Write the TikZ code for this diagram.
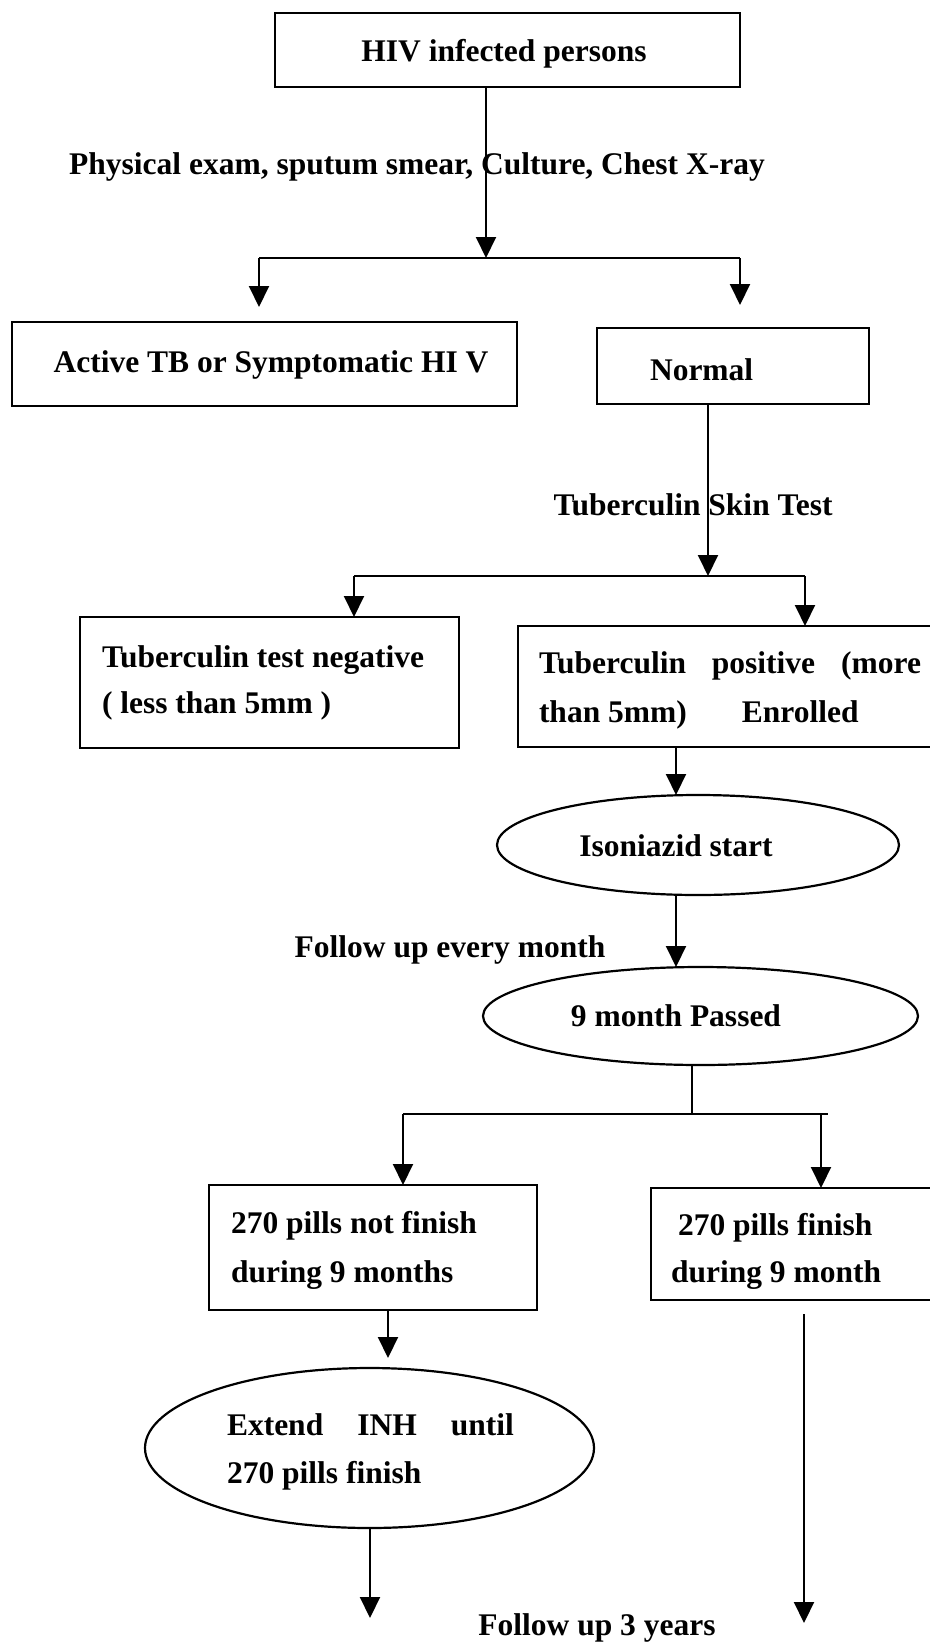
\documentclass[tikz,border=0pt]{standalone}
\usepackage{fontspec}
\setmainfont{Liberation Serif}
\usetikzlibrary{arrows.meta,shapes.geometric}
\begin{document}
\begin{tikzpicture}[x=1pt,y=-1pt,
  every node/.style={font=\fontsize{31.5}{49}\selectfont\bfseries, inner sep=0pt, outer sep=0pt},
  boxnode/.style={draw, line width=2.4pt, rectangle},
  ellnode/.style={draw, line width=2.2pt, ellipse},
  conn/.style={draw, line width=2pt},
  arr/.style={draw, line width=2pt, -{Triangle[length=21pt,width=20pt]}}
]
\useasboundingbox[fill=white] (0,0) rectangle (929,1643);

% boxes and ellipses
\node[boxnode, minimum width=465pt, minimum height=74pt] (hiv) at (507.5,50) {};
\node[boxnode, minimum width=505pt, minimum height=84pt] (tb) at (264.5,364) {};
\node[boxnode, minimum width=272pt, minimum height=76pt] (normal) at (733,366) {};
\node[boxnode, minimum width=379pt, minimum height=131pt] (neg) at (269.5,682.5) {};
\node[boxnode, minimum width=427pt, minimum height=121pt] (pos) at (731.5,686.5) {};
\node[ellnode, minimum width=402pt, minimum height=100pt] (iso) at (698,845) {};
\node[ellnode, minimum width=435pt, minimum height=98pt] (nine) at (700.5,1016) {};
\node[boxnode, minimum width=328pt, minimum height=125pt] (notfin) at (373,1247.5) {};
\node[boxnode, minimum width=294pt, minimum height=112pt] (fin) at (798,1244) {};
\node[ellnode, minimum width=449pt, minimum height=160pt] (ext) at (369.5,1448) {};

% texts
\node[anchor=base] (hivT) at (504,62) {HIV infected persons};
\node[anchor=base] (physT) at (417,174) {Physical exam, sputum smear, Culture, Chest X-ray};
\node[anchor=base] (tbT) at (271,372) {Active TB or Symptomatic HI V};
\node[anchor=base west] (normalT) at (650,380) {Normal};
\node[anchor=base] (tstT) at (693,515) {Tuberculin Skin Test};
\node[anchor=base west] (negA) at (102,667) {Tuberculin test negative};
\node[anchor=base west] (negB) at (102,713) {( less than 5mm )};
\node[anchor=base west] (posA) at (539,673) {\makebox[382pt][s]{Tuberculin positive (more}};
\node[anchor=base west] (posB) at (539,722) {than 5mm)\hspace{55pt}Enrolled};
\node[anchor=base] (isoT) at (676,856) {Isoniazid start};
\node[anchor=base] (fuT) at (450,957) {Follow up every month};
\node[anchor=base] (nineT) at (676,1026) {9 month Passed};
\node[anchor=base west] (notfinA) at (231,1233) {270 pills not finish};
\node[anchor=base west] (notfinB) at (231,1282) {during 9 months};
\node[anchor=base west] (finA) at (678,1235) {270 pills finish};
\node[anchor=base west] (finB) at (671,1282) {during 9 month};
\node[anchor=base west] (extA) at (227,1435) {\makebox[287pt][s]{Extend INH until}};
\node[anchor=base west] (extB) at (227,1483) {270 pills finish};
\node[anchor=base] (fu3T) at (597,1635) {Follow up 3 years};

% junction coordinates
\coordinate (j1) at (486,258);
\coordinate (j1L) at (259,258);
\coordinate (j1R) at (740,258);
\coordinate (j2) at (708,576);
\coordinate (j2L) at (354,576);
\coordinate (j2R) at (805,576);
\coordinate (j3) at (692,1114);
\coordinate (j3L) at (403,1114);
\coordinate (j3R) at (828,1114);
\coordinate (j3A) at (821,1114);
\coordinate (k1) at (388,1300);
\coordinate (e1) at (370,1618);
\coordinate (e2) at (804,1623);

% connectors
\draw[arr] (j1 |- hiv.south) -- (j1);
\draw[conn] (j1L) -- (j1R);
\draw[arr, shorten >=15pt] (j1L) -- (j1L |- tb.north);
\draw[arr, shorten >=23pt] (j1R) -- (j1R |- normal.north);

\draw[arr] (j2 |- normal.south) -- (j2);
\draw[conn] (j2L) -- (j2R);
\draw[arr] (j2L) -- (j2L |- neg.north);
\draw[arr] (j2R) -- (j2R |- pos.north);

\draw[arr] (isoT |- pos.south) -- (isoT |- iso.north);
\draw[arr] (isoT |- iso.south) -- (isoT |- nine.north);

\draw[conn] (j3 |- nine.south) -- (j3);
\draw[conn] (j3L) -- (j3R);
\draw[arr] (j3L) -- (j3L |- notfin.north);
\draw[arr] (j3A) -- (j3A |- fin.north);

\draw[arr, shorten >=10pt] (k1 |- notfin.south) -- (k1 |- ext.north);
\draw[arr] (e1 |- ext.south) -- (e1);
\draw[arr, shorten <=14pt] (e2 |- fin.south) -- (e2);
\end{tikzpicture}
\end{document}
